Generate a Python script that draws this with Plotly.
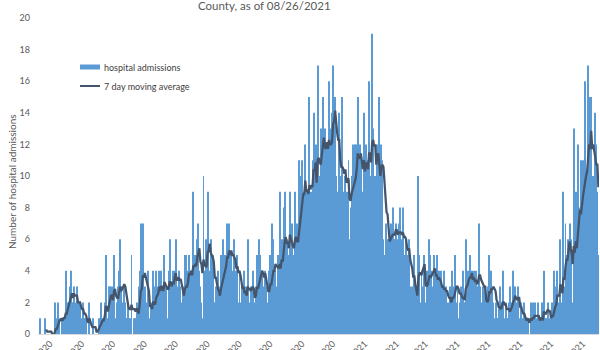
import pandas as pd
import plotly.graph_objects as go

START_DATE = "2020-03-01"

mar_2020 = [1,0,0,0,0,1,0, 0,0,0,0,0,0,0, 0,2,0,1,2,1,0, 1,1,1,1,4,1,2, 2,3,4]
apr_2020 = [2,2,3,1,2,3,1, 2,2,1,0,2,1,1, 1,0,0,2,0,0,0, 1,0,0,0,0,1,1, 2,1]
may_2020 = [1,0,2,5,1,0,3, 3,3,2,3,5,1,0, 2,3,4,6,3,2,1, 3,2,1,1,2,1,1, 5,0,1]
jun_2020 = [1,1,2,1,3,4,7, 2,7,1,3,1,2,4, 1,0,2,1,4,2,3, 4,1,3,4,2,4,3, 2,5]
jul_2020 = [2,3,1,4,6,2,3, 4,2,4,6,3,2,4, 3,2,1,3,2,5,5, 3,4,5,2,4,3,9, 3,5,4]
aug_2020 = [6,7,4,3,2,1,10, 4,6,4,9,3,4,6, 3,5,2,2,3,1,4, 2,3,5,4,6,3,5, 4,7,5]
sep_2020 = [7,4,5,3,4,6,4, 3,5,2,4,2,3,1, 4,2,3,2,6,2,1, 3,3,4,1,2,3,5, 2,6]
oct_2020 = [5,3,4,2,3,4,3, 2,1,4,5,3,7,6, 2,4,3,5,2,9,4, 6,3,8,9,4,6,5, 3,9,6]
nov_2020 = [7,3,5,9,4,7,6, 11,8,10,11,9,7,12, 6,9,8,15,7,9,11, 14,8,12,6,17,10,9, 13,12]
dec_2020 = [15,11,13,9,12,10,16, 13,11,14,17,13,15,10, 9,8,14,8,10,15,9, 7,10,8,9,11,6,8, 10,12,9]
jan_2021 = [12,12,10,15,8,12,11, 9,8,14,10,12,11,9, 16,8,10,19,13,8,10, 7,12,11,15,7,12,11, 6,5,7]
feb_2021 = [6,6,5,6,7,6,8, 6,6,7,6,5,7,8, 6,5,8,4,5,6,4, 5,6,3,2,3,2,5]
mar_2021 = [1,3,1,10,5,2,4, 3,5,2,1,4,3,6, 5,4,3,2,5,4,3, 5,2,4,1,4,2,3, 4,2,3]
apr_2021 = [1,2,1,3,2,4,3, 2,5,2,3,1,2,3, 1,4,2,2,6,3,4, 3,5,2,4,3,4,2, 4,3]
may_2021 = [3,7,3,2,1,3,2, 3,1,2,3,5,2,4, 3,2,1,2,1,1,2, 3,1,2,4,1,0,2, 1,1,2]
jun_2021 = [3,2,1,4,2,3,1, 2,3,1,0,2,1,0, 2,1,0,1,1,0,2, 1,2,0,2,1,0,2, 1,0]
jul_2021 = [1,2,0,4,1,1,1, 2,1,0,1,2,1,4, 3,2,4,1,2,6,1, 2,9,3,7,5,6,4, 7,6,1]
aug_2021 = [2,13,3,9,4,12,6, 8,11,9,11,7,16,8, 10,17,15,9,15,8,10, 7,14,12,9,5]

admissions = (mar_2020 + apr_2020 + may_2020 + jun_2020 + jul_2020 + aug_2020 +
              sep_2020 + oct_2020 + nov_2020 + dec_2020 + jan_2021 + feb_2021 +
              mar_2021 + apr_2021 + may_2021 + jun_2021 + jul_2021 + aug_2021)

dates = pd.date_range(START_DATE, periods=len(admissions), freq="D")
moving_avg = pd.Series(admissions).rolling(7).mean()

tick_dates = pd.date_range("2020-03-01", "2021-08-01", freq="MS")
y_ticks = list(range(0, 21, 2))

TITLE_TEXT = "County, as of 08/26/2021"
Y_TITLE = "Number of hospital admissions"
BAR_NAME = "hospital admissions"
LINE_NAME = "7 day moving average"

FONT = "Lato, 'Open Sans', sans-serif"
GRAY = "#595959"
BAR_COLOR = "#5B9BD5"
LINE_COLOR = "#44546A"

fig = go.Figure()
fig.add_trace(go.Bar(
    x=dates, y=admissions, name=BAR_NAME,
    marker=dict(color=BAR_COLOR, line=dict(width=0)),
))
fig.add_trace(go.Scatter(
    x=dates, y=moving_avg, name=LINE_NAME, mode="lines",
    line=dict(color=LINE_COLOR, width=2.25),
))

W, H = 600, 350
L, R, T, B = 38, 1, 18, 16
pw, ph = W - L - R, H - T - B

def px_x(x):
    return (x - L) / pw

def px_y(y):
    return (H - B - y) / ph

legend_shapes = [
    dict(type="rect", xref="paper", yref="paper",
         x0=px_x(80), x1=px_x(100), y0=px_y(69.5), y1=px_y(64.5),
         fillcolor=BAR_COLOR, line=dict(width=0)),
    dict(type="line", xref="paper", yref="paper",
         x0=px_x(80), x1=px_x(100), y0=px_y(86), y1=px_y(86),
         line=dict(color=LINE_COLOR, width=2)),
]

fig.update_layout(
    width=W, height=H,
    margin=dict(l=L, r=R, t=T, b=B, autoexpand=False),
    paper_bgcolor="white", plot_bgcolor="white",
    bargap=0.05,
    font=dict(family=FONT, color=GRAY, size=9),
    showlegend=False,
    shapes=legend_shapes,
    xaxis=dict(
        type="date", automargin=False,
        range=["2020-02-28 02:00", "2021-08-26 14:00"],
        tickvals=tick_dates, tickformat="%-m/%-d/%Y", tickangle=-45,
        ticklabelshift=10,
        showgrid=False, zeroline=False, showline=True, linecolor="#D9D9D9",
        linewidth=1, ticks="", tickfont=dict(size=9, color=GRAY),
    ),
    yaxis=dict(
        automargin=False,
        range=[0, 20], tickvals=y_ticks, showgrid=False, zeroline=False,
        showline=False, ticks="", tickfont=dict(size=9, color=GRAY),
        ticklabelstandoff=7,
    ),
    annotations=[
        dict(text=TITLE_TEXT, xref="paper", yref="paper",
             x=px_x(264), y=px_y(5), xanchor="center", yanchor="middle",
             showarrow=False, font=dict(size=11.5, color=GRAY, family=FONT)),
        dict(text=Y_TITLE, xref="paper", yref="paper",
             x=px_x(12), y=px_y(182), xanchor="center", yanchor="middle",
             textangle=-90, showarrow=False,
             font=dict(size=10, color=GRAY, family=FONT)),
        dict(text=BAR_NAME, xref="paper", yref="paper",
             x=px_x(102), y=px_y(67), xanchor="left", yanchor="middle",
             showarrow=False, font=dict(size=9, color="#404040", family=FONT)),
        dict(text=LINE_NAME, xref="paper", yref="paper",
             x=px_x(102), y=px_y(86), xanchor="left", yanchor="middle",
             showarrow=False, font=dict(size=9, color="#404040", family=FONT)),
    ],
)

fig.write_html("out.html")
